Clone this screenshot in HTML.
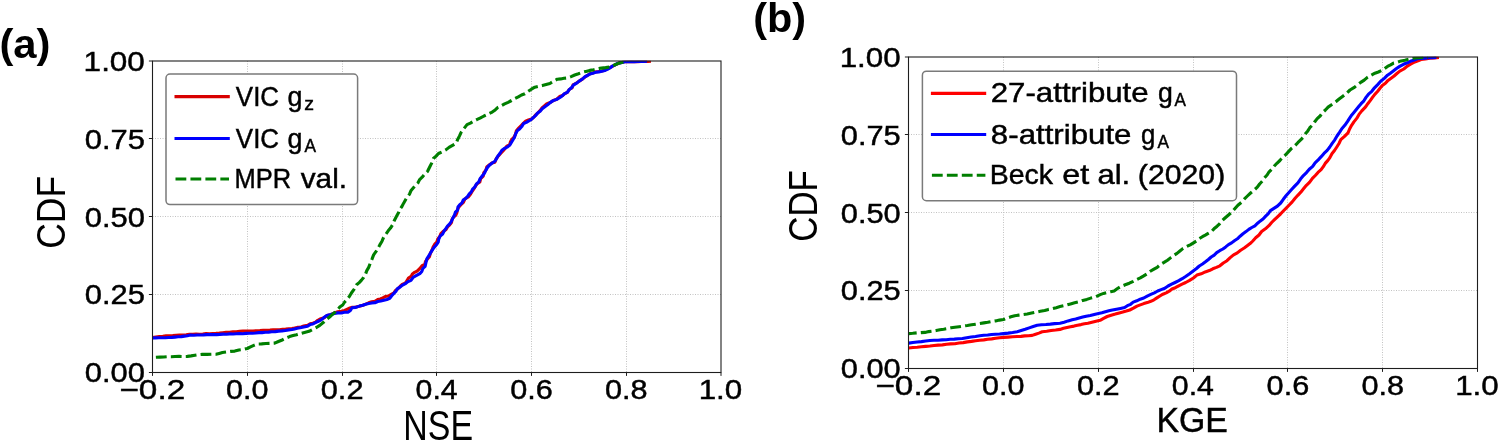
<!DOCTYPE html>
<html><head><meta charset="utf-8"><title>CDF plots</title>
<style>
html,body{margin:0;padding:0;background:#fff;}
svg{display:block;font-family:"Liberation Sans", sans-serif;will-change:transform;transform:translateZ(0);}
text{fill:#000;}
.dv{stroke:#000;stroke-width:0.45;}
.grid{stroke:#c2c2c2;stroke-width:1;stroke-dasharray:1 1.5;fill:none;}
.spine{stroke:#1e1e1e;stroke-width:1.1;fill:none;}
.tick{stroke:#1e1e1e;stroke-width:1;fill:none;}
.ln{fill:none;stroke-width:3.1;stroke-linejoin:round;stroke-linecap:butt;}
.dash{stroke-dasharray:10.8 4.15;}
.leg{fill:#fff;stroke:#7a7a7a;stroke-width:1.5;}
</style></head><body>
<svg width="1498" height="441" viewBox="0 0 1498 441">
<rect width="1498" height="441" fill="#fff"/>
<clipPath id="ca"><rect x="152.5" y="60.8" width="568.5" height="311.7"/></clipPath>
<line class="grid" x1="247.5" y1="61.0" x2="247.5" y2="372.5"/>
<line class="grid" x1="342.5" y1="61.0" x2="342.5" y2="372.5"/>
<line class="grid" x1="436.5" y1="61.0" x2="436.5" y2="372.5"/>
<line class="grid" x1="531.5" y1="61.0" x2="531.5" y2="372.5"/>
<line class="grid" x1="626.5" y1="61.0" x2="626.5" y2="372.5"/>
<line class="grid" x1="152.5" y1="138.5" x2="721.0" y2="138.5"/>
<line class="grid" x1="152.5" y1="216.5" x2="721.0" y2="216.5"/>
<line class="grid" x1="152.5" y1="294.5" x2="721.0" y2="294.5"/>
<g clip-path="url(#ca)">
<path class="ln" stroke="#d80000" d="M152.5,337.6 L155.9,337.1 L159.4,336.6 L162.8,336.3 L166.1,335.9 L169.5,335.7 L172.8,335.5 L176.1,335.2 L179.5,335.1 L182.8,335.0 L186.2,334.8 L189.5,334.3 L192.8,334.3 L196.1,334.0 L199.4,334.2 L202.8,334.0 L206.1,333.6 L209.4,333.8 L212.7,333.6 L216.0,333.4 L219.4,333.1 L222.7,332.7 L226.1,332.3 L229.5,332.3 L232.9,331.9 L236.2,331.7 L239.6,331.4 L243.0,331.1 L246.4,331.1 L249.7,331.0 L253.1,331.0 L256.5,330.7 L259.9,330.6 L263.2,330.4 L266.6,330.3 L270.0,330.1 L273.1,329.8 L276.3,329.9 L279.4,329.7 L282.6,329.4 L285.7,329.1 L288.9,328.7 L292.0,328.5 L294.6,328.0 L297.3,327.4 L300.0,327.4 L303.7,326.0 L307.6,325.3 L310.1,323.8 L312.9,323.3 L315.5,322.2 L317.8,320.3 L320.8,318.7 L324.2,317.8 L326.9,315.6 L330.8,314.7 L334.4,312.9 L337.7,311.7 L341.2,311.2 L344.6,310.4 L347.8,309.0 L350.0,307.9 L352.3,307.2 L355.9,307.0 L359.4,306.2 L362.8,305.2 L365.7,304.1 L368.7,302.8 L371.7,301.7 L374.9,301.3 L377.7,299.6 L380.3,299.0 L382.8,297.9 L385.2,296.6 L388.4,296.0 L391.2,294.4 L393.7,293.0 L395.4,290.5 L397.9,288.8 L400.0,286.5 L402.2,284.5 L405.2,283.2 L407.0,280.8 L408.5,278.0 L411.1,276.4 L412.4,273.9 L414.6,272.3 L417.1,271.1 L419.7,268.6 L422.1,265.6 L424.8,264.3 L425.5,261.4 L427.2,259.3 L429.4,256.7 L430.4,253.3 L431.9,250.3 L433.1,247.1 L434.6,244.4 L436.8,242.0 L437.8,239.0 L439.8,236.5 L440.9,233.6 L443.2,231.4 L445.9,229.7 L447.5,226.9 L449.7,224.8 L451.5,222.5 L452.0,219.6 L453.4,217.2 L455.7,215.3 L456.9,212.6 L457.5,209.7 L458.7,207.1 L460.7,204.9 L463.4,202.4 L465.0,198.9 L468.3,197.0 L470.2,194.6 L471.8,192.0 L473.5,189.5 L475.0,186.9 L476.8,184.1 L479.8,182.0 L480.7,178.6 L483.2,176.2 L483.8,172.8 L485.9,170.1 L486.8,166.9 L489.2,164.9 L491.8,163.1 L494.9,162.2 L496.2,158.7 L498.4,155.9 L500.8,153.3 L503.2,150.7 L505.1,148.5 L506.8,146.2 L509.6,144.9 L510.5,141.8 L511.9,139.3 L513.9,137.2 L515.5,134.2 L516.4,130.7 L518.7,128.1 L521.0,125.7 L523.3,123.3 L525.6,121.2 L528.4,120.0 L531.5,119.1 L533.9,117.1 L535.7,114.8 L537.9,112.8 L540.0,110.7 L542.0,108.0 L544.4,105.8 L546.9,103.6 L550.3,102.5 L553.3,100.5 L556.8,99.2 L559.6,96.5 L562.5,95.5 L564.8,93.6 L567.5,92.3 L569.2,89.5 L572.0,88.0 L573.1,84.8 L576.5,83.0 L579.6,80.9 L582.7,78.9 L585.0,77.0 L587.5,75.3 L590.0,73.8 L592.8,73.0 L595.7,71.9 L598.8,71.5 L601.8,71.0 L604.8,70.3 L607.2,68.6 L609.9,67.7 L612.4,66.4 L614.7,65.0 L617.3,63.9 L619.6,62.6 L622.2,62.3 L624.7,61.8 L628.0,61.5 L631.3,61.6 L634.6,61.7 L637.9,61.6 L641.1,61.5 L644.4,61.4 L647.7,61.4 L651.0,61.3"/>
<path class="ln" stroke="#0000ff" d="M152.5,338.0 L155.7,337.9 L158.9,337.8 L162.1,337.7 L165.4,337.7 L168.6,337.5 L171.8,337.4 L175.0,337.1 L178.1,336.8 L181.3,336.6 L184.4,336.1 L187.5,335.8 L190.6,335.1 L193.9,335.2 L197.1,335.0 L200.4,335.0 L203.6,334.9 L206.9,334.6 L210.2,334.6 L213.4,334.5 L216.7,334.6 L219.9,334.4 L223.2,334.1 L226.4,334.2 L229.7,333.9 L233.0,334.0 L236.2,333.7 L239.5,333.6 L242.7,333.7 L246.0,333.4 L249.2,333.2 L252.5,333.2 L255.7,333.0 L258.9,332.6 L262.1,332.6 L265.4,332.2 L268.6,332.1 L271.8,331.7 L275.2,331.6 L278.5,331.1 L281.9,330.9 L285.3,330.5 L288.6,329.9 L292.0,329.5 L294.6,328.9 L297.3,328.3 L300.0,327.8 L303.7,326.9 L307.5,326.2 L310.0,324.6 L312.8,324.0 L315.3,322.6 L317.9,321.5 L321.2,319.9 L323.9,317.6 L326.8,315.4 L330.6,314.5 L334.4,313.5 L337.8,312.9 L341.2,313.0 L344.5,312.3 L347.9,312.3 L350.4,310.5 L352.0,307.8 L355.9,307.4 L359.3,306.1 L362.8,305.2 L365.7,304.2 L368.7,303.5 L371.8,302.9 L374.9,302.7 L377.8,301.5 L380.8,301.0 L383.9,300.3 L386.9,299.5 L389.8,298.3 L391.7,295.8 L393.8,293.4 L396.1,291.1 L397.5,288.6 L400.0,287.2 L402.1,285.3 L404.9,283.9 L407.5,281.9 L411.0,280.3 L413.4,277.1 L416.6,275.4 L419.8,273.7 L421.8,271.4 L422.9,268.5 L425.1,266.4 L426.0,262.4 L427.0,258.5 L428.9,255.7 L430.6,252.8 L432.4,249.9 L434.3,247.2 L436.4,244.8 L438.2,242.2 L438.8,239.0 L440.1,236.2 L442.6,234.0 L444.0,231.2 L445.8,228.6 L447.5,226.0 L449.7,223.8 L451.6,221.0 L452.9,217.9 L454.5,215.0 L455.4,212.2 L457.6,210.1 L458.0,207.0 L459.8,204.7 L462.0,202.8 L463.2,200.1 L465.6,198.4 L467.7,196.4 L469.3,193.9 L471.3,191.9 L472.6,189.2 L474.7,187.2 L476.3,184.2 L478.8,181.9 L480.1,178.7 L482.2,176.0 L484.4,173.2 L485.9,170.1 L487.7,167.1 L489.7,164.9 L492.2,163.0 L494.9,161.3 L496.6,158.4 L498.2,155.6 L500.2,153.0 L501.9,150.2 L504.6,148.3 L507.6,146.9 L510.0,144.8 L511.5,142.2 L513.0,139.7 L514.5,137.3 L515.6,134.0 L517.2,130.9 L519.8,128.8 L522.0,126.3 L523.6,123.5 L526.4,122.4 L528.8,121.0 L531.3,119.5 L533.5,117.4 L535.8,115.4 L537.6,113.0 L540.1,111.3 L542.2,108.7 L544.9,106.7 L547.6,104.8 L550.1,102.6 L553.1,100.6 L556.8,99.4 L560.0,97.5 L562.4,95.8 L564.5,93.6 L567.3,92.4 L569.2,89.7 L571.7,87.5 L573.6,84.9 L576.7,83.1 L579.5,80.9 L582.5,79.0 L584.7,76.9 L587.4,75.5 L590.0,73.9 L592.8,73.2 L595.7,72.3 L598.8,71.9 L601.8,71.3 L604.7,70.5 L607.4,69.4 L609.9,68.0 L612.2,66.2 L614.7,65.1 L617.1,63.6 L619.8,63.0 L622.2,62.4 L624.7,61.7 L627.9,61.7 L631.1,61.6 L634.3,61.6 L637.4,61.4 L640.6,61.5 L643.8,61.4 L647.0,61.3"/>
<path class="ln dash" stroke="#007f00" stroke-dashoffset="11.55" d="M152.5,357.5 L156.2,357.3 L160.0,357.1 L163.8,357.0 L167.5,356.7 L171.3,356.7 L175.0,356.5 L179.1,356.4 L183.3,356.5 L187.4,356.4 L191.1,355.9 L194.9,355.3 L198.6,354.7 L202.4,354.3 L206.9,354.4 L211.5,354.2 L216.0,354.3 L219.2,353.4 L222.4,352.5 L226.5,351.9 L230.6,351.4 L234.8,351.1 L238.9,350.0 L243.2,349.5 L247.3,348.5 L250.5,346.9 L253.8,345.4 L257.2,344.0 L261.6,343.9 L265.9,343.5 L270.3,343.4 L274.7,343.1 L278.4,341.5 L282.2,340.0 L285.9,338.1 L289.6,336.6 L293.1,335.6 L296.6,334.7 L300.0,333.6 L304.5,332.4 L309.0,331.3 L312.7,329.4 L316.4,327.5 L320.1,325.1 L323.5,322.3 L326.8,319.2 L329.6,317.0 L332.2,314.6 L335.0,312.3 L337.5,309.8 L339.8,307.1 L342.7,305.0 L344.7,302.0 L347.1,299.2 L349.5,296.3 L351.4,293.0 L354.2,289.1 L356.6,284.8 L359.2,282.6 L361.5,280.1 L363.6,277.5 L365.5,274.2 L366.8,270.6 L368.7,267.4 L370.3,263.2 L372.0,259.1 L373.6,254.9 L375.9,251.7 L378.0,248.4 L379.8,244.9 L382.0,241.2 L383.6,237.3 L386.1,233.8 L388.2,230.8 L390.5,228.1 L392.5,225.0 L394.2,220.7 L396.4,216.6 L398.6,212.6 L399.9,209.3 L401.9,206.5 L403.5,203.4 L405.3,200.2 L407.1,197.1 L409.5,194.2 L410.9,190.8 L413.2,188.1 L415.5,185.3 L418.0,182.8 L419.6,179.6 L422.4,176.9 L424.9,174.0 L427.6,171.3 L429.7,167.0 L431.8,162.9 L433.4,158.5 L436.1,156.1 L438.5,153.5 L442.2,151.8 L445.8,149.9 L449.0,147.4 L452.5,145.4 L456.0,143.4 L457.5,139.8 L459.4,136.1 L461.1,132.4 L464.0,128.5 L467.0,124.6 L470.4,123.1 L473.5,121.3 L476.7,119.7 L480.0,118.2 L484.0,116.0 L488.1,114.0 L492.2,112.1 L495.2,109.9 L497.9,107.4 L501.2,105.8 L504.6,103.9 L508.1,102.3 L511.6,100.5 L515.0,98.5 L518.3,96.9 L521.5,95.0 L524.9,93.7 L528.1,91.3 L531.4,89.2 L534.8,87.2 L538.6,86.3 L542.4,85.5 L546.1,84.5 L549.9,83.5 L553.5,81.3 L557.3,79.2 L560.7,78.9 L564.0,78.3 L567.3,78.0 L571.1,76.6 L574.7,75.0 L578.5,73.7 L582.3,72.3 L586.0,71.4 L589.8,70.4 L593.6,69.8 L597.3,68.9 L601.4,68.1 L605.6,67.6 L609.7,66.9 L613.0,65.5 L616.3,64.3 L619.7,62.9 L624.7,61.7"/>
</g>
<rect class="spine" x="152.5" y="61.0" width="568.5" height="311.5"/>
<line class="tick" x1="152.5" y1="372.5" x2="152.5" y2="375.9"/>
<line class="tick" x1="247.5" y1="372.5" x2="247.5" y2="375.9"/>
<line class="tick" x1="342.5" y1="372.5" x2="342.5" y2="375.9"/>
<line class="tick" x1="436.5" y1="372.5" x2="436.5" y2="375.9"/>
<line class="tick" x1="531.5" y1="372.5" x2="531.5" y2="375.9"/>
<line class="tick" x1="626.5" y1="372.5" x2="626.5" y2="375.9"/>
<line class="tick" x1="721.0" y1="372.5" x2="721.0" y2="375.9"/>
<line class="tick" x1="148.9" y1="61.0" x2="152.5" y2="61.0"/>
<line class="tick" x1="148.9" y1="138.5" x2="152.5" y2="138.5"/>
<line class="tick" x1="148.9" y1="216.5" x2="152.5" y2="216.5"/>
<line class="tick" x1="148.9" y1="294.5" x2="152.5" y2="294.5"/>
<line class="tick" x1="148.9" y1="372.5" x2="152.5" y2="372.5"/>
<text class="dv" x="83.64" y="70.80" font-size="27.8" textLength="61.26" lengthAdjust="spacingAndGlyphs">1.00</text>
<text class="dv" x="84.76" y="148.68" font-size="27.8" textLength="60.11" lengthAdjust="spacingAndGlyphs">0.75</text>
<text class="dv" x="84.76" y="226.55" font-size="27.8" textLength="60.11" lengthAdjust="spacingAndGlyphs">0.50</text>
<text class="dv" x="84.76" y="304.43" font-size="27.8" textLength="60.11" lengthAdjust="spacingAndGlyphs">0.25</text>
<text class="dv" x="84.76" y="382.30" font-size="27.8" textLength="60.11" lengthAdjust="spacingAndGlyphs">0.00</text>
<text class="dv" x="119.44" y="398.80" font-size="27.8" textLength="65.70" lengthAdjust="spacingAndGlyphs">−0.2</text>
<text class="dv" x="226.03" y="398.80" font-size="27.8" textLength="42.45" lengthAdjust="spacingAndGlyphs">0.0</text>
<text class="dv" x="320.77" y="398.80" font-size="27.8" textLength="42.77" lengthAdjust="spacingAndGlyphs">0.2</text>
<text class="dv" x="415.54" y="398.80" font-size="27.8" textLength="42.13" lengthAdjust="spacingAndGlyphs">0.4</text>
<text class="dv" x="510.27" y="398.80" font-size="27.8" textLength="42.61" lengthAdjust="spacingAndGlyphs">0.6</text>
<text class="dv" x="605.02" y="398.80" font-size="27.8" textLength="42.61" lengthAdjust="spacingAndGlyphs">0.8</text>
<text class="dv" x="698.65" y="398.80" font-size="27.8" textLength="43.61" lengthAdjust="spacingAndGlyphs">1.0</text>
<clipPath id="cb"><rect x="908.5" y="56.8" width="569.0" height="311.7"/></clipPath>
<line class="grid" x1="1003.5" y1="57.0" x2="1003.5" y2="368.5"/>
<line class="grid" x1="1098.5" y1="57.0" x2="1098.5" y2="368.5"/>
<line class="grid" x1="1193.5" y1="57.0" x2="1193.5" y2="368.5"/>
<line class="grid" x1="1287.5" y1="57.0" x2="1287.5" y2="368.5"/>
<line class="grid" x1="1382.5" y1="57.0" x2="1382.5" y2="368.5"/>
<line class="grid" x1="908.5" y1="134.5" x2="1477.5" y2="134.5"/>
<line class="grid" x1="908.5" y1="212.5" x2="1477.5" y2="212.5"/>
<line class="grid" x1="908.5" y1="290.5" x2="1477.5" y2="290.5"/>
<g clip-path="url(#cb)">
<path class="ln" stroke="#ff0000" d="M908.7,348.0 L912.9,347.5 L917.2,347.2 L921.4,346.8 L925.7,346.4 L929.9,346.0 L934.1,345.5 L938.2,345.1 L942.4,344.9 L946.6,344.3 L950.7,343.9 L954.9,343.7 L959.0,343.0 L963.2,342.6 L967.3,341.9 L971.5,341.4 L975.6,340.8 L979.8,340.3 L983.8,339.9 L987.7,339.3 L991.7,338.9 L995.6,338.3 L999.5,337.7 L1003.5,337.4 L1008.1,337.1 L1012.6,336.8 L1017.2,336.5 L1021.0,336.4 L1024.7,335.9 L1028.5,335.7 L1032.2,335.4 L1035.6,334.2 L1038.9,333.1 L1042.2,331.8 L1046.7,331.3 L1051.1,330.5 L1055.6,330.0 L1060.0,329.4 L1063.5,328.3 L1067.0,327.5 L1070.5,326.7 L1074.0,326.1 L1077.5,325.2 L1081.0,324.6 L1084.4,323.8 L1087.9,323.2 L1092.0,322.2 L1096.0,321.2 L1100.1,320.3 L1103.6,318.3 L1107.2,316.5 L1111.2,315.2 L1115.3,314.1 L1119.3,312.9 L1122.8,312.1 L1126.3,311.1 L1129.8,310.0 L1133.4,308.2 L1137.0,306.1 L1140.3,304.9 L1143.8,303.6 L1147.3,302.6 L1150.8,301.3 L1154.0,299.8 L1156.9,297.9 L1159.9,296.0 L1162.9,294.2 L1166.2,292.9 L1169.2,291.2 L1172.0,289.0 L1175.3,287.7 L1178.7,285.8 L1182.1,284.1 L1185.7,282.5 L1189.6,280.4 L1193.4,278.0 L1196.9,275.1 L1201.2,273.8 L1205.2,271.9 L1209.3,270.6 L1212.8,268.8 L1216.4,267.4 L1219.9,265.8 L1223.3,263.0 L1227.0,260.7 L1230.2,257.6 L1233.6,254.9 L1237.3,252.9 L1240.6,250.2 L1244.2,248.0 L1247.2,245.8 L1250.1,243.6 L1252.8,241.0 L1255.7,237.8 L1259.0,235.0 L1261.6,231.5 L1265.4,228.8 L1268.9,225.7 L1271.6,222.5 L1274.5,219.7 L1277.5,216.8 L1280.5,214.0 L1283.3,211.0 L1286.2,208.1 L1289.2,205.0 L1292.2,201.9 L1294.9,198.5 L1297.8,195.3 L1300.8,192.2 L1303.5,188.8 L1306.4,185.3 L1309.7,182.1 L1312.4,178.4 L1315.3,175.5 L1318.0,172.4 L1321.1,169.7 L1323.3,166.7 L1325.2,163.4 L1327.7,160.6 L1329.9,157.6 L1331.9,153.8 L1334.5,150.5 L1336.8,147.0 L1339.0,143.5 L1340.8,139.7 L1344.5,136.4 L1348.0,132.9 L1349.6,129.0 L1351.6,125.3 L1353.9,121.9 L1356.7,118.4 L1359.0,114.4 L1361.8,110.9 L1365.6,106.9 L1367.8,103.7 L1370.2,100.6 L1372.5,97.4 L1374.8,94.3 L1377.5,91.5 L1379.8,88.5 L1382.3,85.6 L1385.4,83.3 L1388.0,80.4 L1391.1,78.2 L1394.1,76.0 L1396.9,73.5 L1399.8,71.1 L1403.8,69.0 L1407.3,66.1 L1411.0,64.0 L1414.8,62.0 L1418.0,60.9 L1421.0,59.5 L1425.4,58.9 L1429.8,58.2 L1434.4,57.9 L1438.9,57.4"/>
<path class="ln" stroke="#0000ff" d="M908.7,343.1 L912.9,342.5 L917.2,342.0 L921.4,341.6 L925.7,341.0 L929.9,340.5 L934.0,340.3 L938.0,340.2 L942.1,339.9 L946.2,339.7 L950.2,339.3 L954.3,339.1 L958.3,338.8 L962.4,338.5 L966.7,337.7 L971.1,337.0 L975.5,336.5 L979.8,335.7 L983.8,335.3 L987.7,335.0 L991.6,334.5 L995.6,334.2 L999.6,334.0 L1003.5,333.6 L1008.1,333.1 L1012.6,332.5 L1017.2,331.7 L1021.2,330.5 L1025.2,329.3 L1029.2,327.9 L1033.2,326.5 L1037.2,325.3 L1041.5,324.8 L1045.9,324.5 L1050.3,324.1 L1054.6,323.6 L1060.0,323.2 L1064.1,322.2 L1068.1,320.9 L1072.2,319.8 L1075.7,319.0 L1079.2,318.0 L1082.7,317.1 L1086.2,316.3 L1090.3,315.4 L1094.3,314.4 L1098.4,313.5 L1101.9,312.8 L1105.4,311.7 L1108.9,310.8 L1112.4,310.1 L1116.5,309.2 L1120.5,308.4 L1124.6,307.5 L1127.4,305.7 L1130.6,304.3 L1133.2,302.1 L1136.8,300.8 L1140.2,299.2 L1143.8,298.0 L1147.2,296.1 L1150.8,294.4 L1154.4,292.8 L1157.7,291.0 L1161.2,289.6 L1164.8,288.2 L1168.1,286.0 L1171.6,284.2 L1175.1,282.5 L1178.8,280.7 L1182.2,278.7 L1185.6,276.5 L1189.6,273.7 L1193.5,270.7 L1196.5,268.5 L1199.3,266.0 L1202.5,264.0 L1205.5,261.8 L1208.4,259.5 L1211.2,257.0 L1214.2,255.1 L1216.7,252.6 L1219.7,250.7 L1222.9,249.0 L1225.7,246.9 L1228.5,244.6 L1231.6,242.9 L1234.4,240.7 L1237.4,238.8 L1240.1,236.2 L1243.0,233.8 L1246.0,231.6 L1248.8,229.4 L1251.8,227.5 L1254.9,225.8 L1257.6,223.2 L1260.4,220.9 L1263.3,218.7 L1265.7,216.1 L1268.3,213.6 L1270.4,210.6 L1273.9,208.4 L1277.4,206.1 L1280.7,203.0 L1283.3,199.3 L1286.0,195.8 L1288.9,192.5 L1291.8,189.3 L1294.7,186.1 L1297.9,182.9 L1300.5,179.1 L1303.4,175.6 L1306.5,172.6 L1309.3,169.3 L1312.7,166.4 L1315.1,162.8 L1318.2,159.8 L1321.2,156.7 L1324.0,153.4 L1327.2,150.4 L1329.8,147.0 L1332.2,143.3 L1334.8,139.8 L1337.0,136.0 L1339.5,132.4 L1341.8,128.7 L1344.8,125.3 L1347.4,121.6 L1349.8,117.8 L1351.8,114.9 L1354.1,112.2 L1356.3,109.5 L1358.5,106.8 L1361.1,103.7 L1363.9,100.8 L1366.0,97.4 L1368.5,94.2 L1371.8,91.3 L1374.5,87.8 L1377.7,84.6 L1380.7,81.3 L1384.3,78.4 L1387.5,75.2 L1390.4,73.2 L1393.3,71.0 L1396.1,68.8 L1399.7,66.4 L1403.5,64.3 L1407.4,62.8 L1411.2,60.9 L1414.2,60.0 L1417.3,58.8 L1421.1,58.5 L1424.8,58.1 L1428.7,57.8 L1432.5,57.7 L1436.4,57.4"/>
<path class="ln dash" stroke="#007f00" stroke-dashoffset="2.8" d="M908.7,333.6 L912.8,333.3 L916.8,332.9 L920.9,332.6 L925.0,332.4 L928.7,331.6 L932.5,331.1 L936.2,330.5 L939.9,329.7 L943.7,329.2 L947.4,328.6 L951.1,327.8 L954.9,327.3 L959.1,326.7 L963.2,326.1 L967.4,325.5 L971.5,324.8 L975.6,324.2 L979.8,323.5 L983.8,322.9 L987.7,322.3 L991.7,321.5 L995.6,320.9 L999.5,320.1 L1003.5,319.5 L1007.2,318.0 L1010.9,316.8 L1014.7,315.7 L1018.9,315.1 L1023.0,314.6 L1027.2,314.0 L1031.6,313.1 L1035.9,312.2 L1040.3,311.3 L1044.7,310.5 L1048.5,309.4 L1052.4,308.7 L1056.2,307.7 L1060.0,306.6 L1063.5,305.8 L1067.0,304.9 L1070.5,303.9 L1074.6,302.8 L1078.7,301.8 L1082.7,300.4 L1086.8,299.4 L1090.8,298.1 L1094.9,297.1 L1100.2,294.6 L1103.6,293.4 L1107.1,292.5 L1110.6,291.7 L1114.1,290.9 L1117.5,288.5 L1121.0,286.4 L1125.2,284.8 L1129.3,283.2 L1133.3,281.3 L1136.8,279.5 L1140.3,277.9 L1143.7,275.9 L1146.9,273.9 L1149.9,271.5 L1153.5,269.4 L1157.2,267.3 L1160.4,264.5 L1164.0,262.4 L1167.5,260.2 L1170.8,257.6 L1173.7,255.4 L1177.0,253.4 L1179.9,251.0 L1183.1,248.4 L1186.8,246.5 L1190.2,244.8 L1193.5,242.8 L1196.6,240.9 L1199.3,238.6 L1202.4,236.7 L1205.3,235.1 L1208.2,233.4 L1211.2,231.7 L1214.0,228.8 L1217.1,226.2 L1219.6,223.8 L1221.6,221.1 L1225.0,218.0 L1228.5,215.0 L1232.0,212.0 L1235.0,208.5 L1237.9,205.2 L1241.3,202.4 L1244.2,199.1 L1247.4,196.0 L1250.6,193.0 L1254.0,190.2 L1257.3,187.2 L1259.6,184.0 L1262.3,181.1 L1264.4,177.9 L1267.1,175.0 L1269.1,171.8 L1271.8,169.2 L1274.1,166.3 L1276.9,163.3 L1279.9,160.5 L1282.6,157.4 L1285.7,154.7 L1288.5,151.6 L1291.3,148.6 L1294.8,145.9 L1297.8,142.7 L1300.9,139.7 L1303.4,136.9 L1305.4,133.8 L1307.8,130.9 L1309.8,127.7 L1312.6,124.9 L1314.8,121.7 L1317.2,118.6 L1320.1,116.0 L1322.4,112.7 L1325.4,110.0 L1328.1,107.1 L1331.9,104.5 L1335.8,101.7 L1339.1,99.0 L1342.5,96.4 L1345.9,93.8 L1350.0,90.0 L1353.9,87.7 L1357.5,84.9 L1360.7,82.4 L1364.2,80.1 L1367.4,77.4 L1371.1,75.2 L1374.9,73.2 L1378.4,72.0 L1381.7,70.5 L1384.6,68.5 L1387.5,66.4 L1390.6,64.9 L1393.6,63.1 L1397.4,62.2 L1401.1,60.9 L1404.9,60.2 L1408.6,59.3 L1411.7,58.7 L1414.8,58.0 L1419.2,57.7 L1423.6,57.5 L1428.0,57.4"/>
</g>
<rect class="spine" x="908.5" y="57.0" width="569.0" height="311.5"/>
<line class="tick" x1="908.5" y1="368.5" x2="908.5" y2="371.9"/>
<line class="tick" x1="1003.5" y1="368.5" x2="1003.5" y2="371.9"/>
<line class="tick" x1="1098.5" y1="368.5" x2="1098.5" y2="371.9"/>
<line class="tick" x1="1193.5" y1="368.5" x2="1193.5" y2="371.9"/>
<line class="tick" x1="1287.5" y1="368.5" x2="1287.5" y2="371.9"/>
<line class="tick" x1="1382.5" y1="368.5" x2="1382.5" y2="371.9"/>
<line class="tick" x1="1477.5" y1="368.5" x2="1477.5" y2="371.9"/>
<line class="tick" x1="904.9" y1="57.0" x2="908.5" y2="57.0"/>
<line class="tick" x1="904.9" y1="134.5" x2="908.5" y2="134.5"/>
<line class="tick" x1="904.9" y1="212.5" x2="908.5" y2="212.5"/>
<line class="tick" x1="904.9" y1="290.5" x2="908.5" y2="290.5"/>
<line class="tick" x1="904.9" y1="368.5" x2="908.5" y2="368.5"/>
<text class="dv" x="839.65" y="66.80" font-size="27.8" textLength="61.05" lengthAdjust="spacingAndGlyphs">1.00</text>
<text class="dv" x="840.77" y="144.68" font-size="27.8" textLength="59.90" lengthAdjust="spacingAndGlyphs">0.75</text>
<text class="dv" x="840.77" y="222.55" font-size="27.8" textLength="59.90" lengthAdjust="spacingAndGlyphs">0.50</text>
<text class="dv" x="840.77" y="300.43" font-size="27.8" textLength="59.90" lengthAdjust="spacingAndGlyphs">0.25</text>
<text class="dv" x="840.77" y="378.30" font-size="27.8" textLength="59.90" lengthAdjust="spacingAndGlyphs">0.00</text>
<text class="dv" x="875.44" y="394.80" font-size="27.8" textLength="65.70" lengthAdjust="spacingAndGlyphs">−0.2</text>
<text class="dv" x="982.11" y="394.80" font-size="27.8" textLength="42.45" lengthAdjust="spacingAndGlyphs">0.0</text>
<text class="dv" x="1076.94" y="394.80" font-size="27.8" textLength="42.77" lengthAdjust="spacingAndGlyphs">0.2</text>
<text class="dv" x="1171.79" y="394.80" font-size="27.8" textLength="42.13" lengthAdjust="spacingAndGlyphs">0.4</text>
<text class="dv" x="1266.61" y="394.80" font-size="27.8" textLength="42.61" lengthAdjust="spacingAndGlyphs">0.6</text>
<text class="dv" x="1361.44" y="394.80" font-size="27.8" textLength="42.61" lengthAdjust="spacingAndGlyphs">0.8</text>
<text class="dv" x="1455.15" y="394.80" font-size="27.8" textLength="43.61" lengthAdjust="spacingAndGlyphs">1.0</text>
<text x="-0.59" y="57.70" font-size="40" font-weight="bold" textLength="51.07" lengthAdjust="spacingAndGlyphs">(a)</text>
<text x="753.23" y="31.60" font-size="40" font-weight="bold" textLength="52.92" lengthAdjust="spacingAndGlyphs">(b)</text>
<text x="-1.77" y="0" font-size="41.2" textLength="72.90" lengthAdjust="spacingAndGlyphs" transform="translate(64.60,247.00) rotate(-90)">CDF</text>
<text x="-1.74" y="0" font-size="41.2" textLength="71.65" lengthAdjust="spacingAndGlyphs" transform="translate(816.60,240.00) rotate(-90)">CDF</text>
<text x="403.29" y="439.60" font-size="41.7" textLength="69.71" lengthAdjust="spacingAndGlyphs">NSE</text>
<text class="dv" x="1156.39" y="432.20" font-size="35.8" textLength="71.42" lengthAdjust="spacingAndGlyphs">KGE</text>
<rect class="leg" x="166.0" y="74.0" width="191.6" height="130.6" rx="4" ry="4"/>
<path class="ln" stroke="#d80000" d="M174.5,96.6 L229.8,96.6"/>
<text class="dv" x="235.87" y="105.50" font-size="27.2" textLength="43.22" lengthAdjust="spacingAndGlyphs">VIC</text>
<text class="dv" x="287.52" y="105.50" font-size="27.2" textLength="14.95" lengthAdjust="spacingAndGlyphs">g</text>
<text class="dv" x="304.22" y="109.70" font-size="18.6" textLength="9.76" lengthAdjust="spacingAndGlyphs">z</text>
<path class="ln" stroke="#0000ff" d="M174.5,138.5 L229.8,138.5"/>
<text class="dv" x="235.87" y="147.50" font-size="27.2" textLength="43.22" lengthAdjust="spacingAndGlyphs">VIC</text>
<text class="dv" x="287.52" y="147.50" font-size="27.2" textLength="14.95" lengthAdjust="spacingAndGlyphs">g</text>
<text class="dv" x="304.41" y="151.50" font-size="19.0" textLength="11.52" lengthAdjust="spacingAndGlyphs">A</text>
<path class="ln dash" stroke="#007f00" d="M175.5,179.0 L229.0,179.0"/>
<text class="dv" x="234.56" y="187.80" font-size="27.2" textLength="56.56" lengthAdjust="spacingAndGlyphs">MPR</text>
<text class="dv" x="300.75" y="187.80" font-size="27.2" textLength="46.26" lengthAdjust="spacingAndGlyphs">val.</text>
<rect class="leg" x="922.4" y="71.2" width="314.1" height="129.5" rx="4" ry="4"/>
<path class="ln" stroke="#ff0000" d="M930.9,93.4 L986.2,93.4"/>
<text class="dv" x="990.74" y="101.70" font-size="27.2" textLength="157.92" lengthAdjust="spacingAndGlyphs">27-attribute</text>
<text class="dv" x="1158.03" y="101.70" font-size="27.2" textLength="14.83" lengthAdjust="spacingAndGlyphs">g</text>
<text class="dv" x="1174.51" y="105.90" font-size="19.0" textLength="11.42" lengthAdjust="spacingAndGlyphs">A</text>
<path class="ln" stroke="#0000ff" d="M930.9,134.5 L986.2,134.5"/>
<text class="dv" x="990.89" y="143.80" font-size="27.2" textLength="140.63" lengthAdjust="spacingAndGlyphs">8-attribute</text>
<text class="dv" x="1140.97" y="143.80" font-size="27.2" textLength="14.34" lengthAdjust="spacingAndGlyphs">g</text>
<text class="dv" x="1157.61" y="148.20" font-size="19.0" textLength="11.52" lengthAdjust="spacingAndGlyphs">A</text>
<path class="ln dash" stroke="#007f00" d="M931.9,175.3 L985.4,175.3"/>
<text class="dv" x="989.72" y="184.10" font-size="27.2" textLength="63.33" lengthAdjust="spacingAndGlyphs">Beck</text>
<text class="dv" x="1062.24" y="184.10" font-size="27.2" textLength="27.05" lengthAdjust="spacingAndGlyphs">et</text>
<text class="dv" x="1097.40" y="184.10" font-size="27.2" textLength="32.83" lengthAdjust="spacingAndGlyphs">al.</text>
<text class="dv" x="1137.89" y="184.10" font-size="27.2" textLength="87.34" lengthAdjust="spacingAndGlyphs">(2020)</text>
</svg></body></html>
